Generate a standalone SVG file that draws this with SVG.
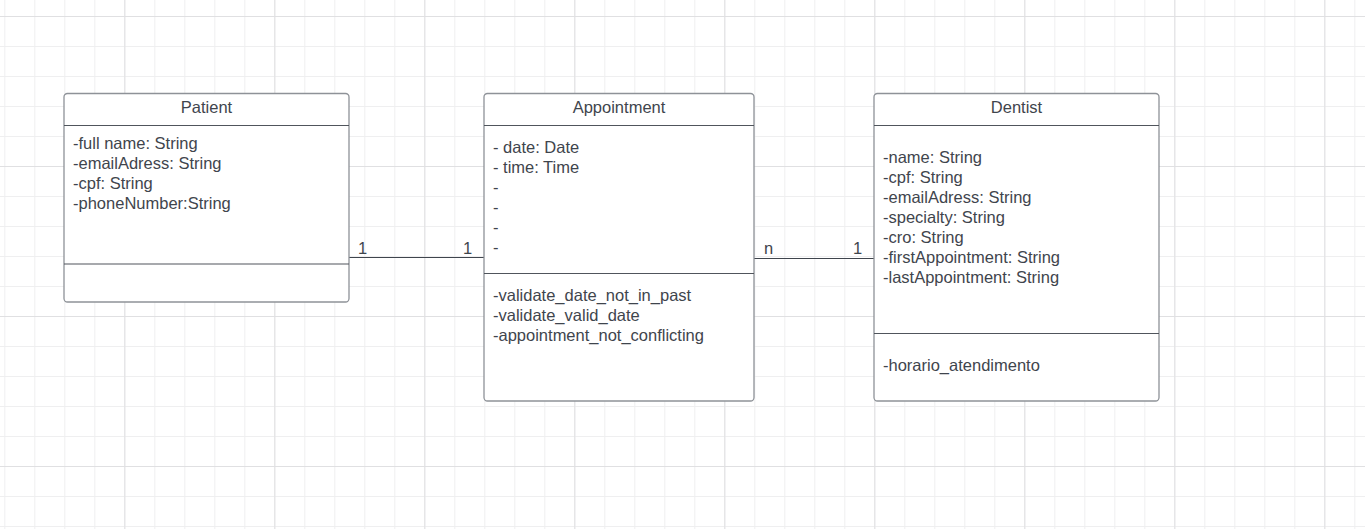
<svg xmlns="http://www.w3.org/2000/svg" width="1365" height="529" viewBox="0 0 1365 529">
  <defs>
    <pattern id="minor" x="4.3" y="16" width="30" height="30" patternUnits="userSpaceOnUse">
      <path d="M0.5 0V30M0 0.5H30" stroke="#efeff0" stroke-width="1" fill="none"/>
    </pattern>
    <pattern id="major" x="124.3" y="16" width="150" height="150" patternUnits="userSpaceOnUse">
      <path d="M0.5 0V150M0 0.5H150" stroke="#e0e0e2" stroke-width="1" fill="none"/>
    </pattern>
  </defs>
  <style>
    .box { fill: #ffffff; stroke: #8e9298; stroke-width: 1.3; }
    .sep { stroke: #50555c; stroke-width: 1.2; }
    .t { font-family: "Liberation Sans", Arial, sans-serif; font-size: 16.5px; fill: #3f454d; }
    .title { text-anchor: middle; }
    .conn { stroke: #3f454d; stroke-width: 1.2; fill: none; }
  </style>
  <rect width="1365" height="529" fill="#ffffff"/>
  <rect width="1365" height="529" fill="url(#minor)"/>
  <rect width="1365" height="529" fill="url(#major)"/>

  <g id="connectors">
    <path class="conn" d="M349 257.5H484"/>
    <text class="t" x="358" y="254">1</text>
    <text class="t" x="463" y="254">1</text>
    <path class="conn" d="M754 258.5H874"/>
    <text class="t" x="764" y="254">n</text>
    <text class="t" x="853" y="254">1</text>
  </g>

  <g id="patient">
    <rect class="box" x="64" y="93.5" width="285" height="208.5" rx="3.5"/>
    <path class="sep" d="M64 125.5H349M64 264H349"/>
    <text class="t title" x="206.5" y="113">Patient</text>
    <text class="t" x="73" y="149">-full name: String</text>
    <text class="t" x="73" y="169">-emailAdress: String</text>
    <text class="t" x="73" y="189">-cpf: String</text>
    <text class="t" x="73" y="209">-phoneNumber:String</text>
  </g>

  <g id="appointment">
    <rect class="box" x="484" y="93.5" width="270" height="307.5" rx="3.5"/>
    <path class="sep" d="M484 125.5H754M484 273.5H754"/>
    <text class="t title" x="619" y="113">Appointment</text>
    <text class="t" x="493" y="153">- date: Date</text>
    <text class="t" x="493" y="173">- time: Time</text>
    <text class="t" x="493" y="193">-</text>
    <text class="t" x="493" y="213">-</text>
    <text class="t" x="493" y="233">-</text>
    <text class="t" x="493" y="253">-</text>
    <text class="t" x="493" y="301">-validate_date_not_in_past</text>
    <text class="t" x="493" y="321">-validate_valid_date</text>
    <text class="t" x="493" y="341">-appointment_not_conflicting</text>
  </g>

  <g id="dentist">
    <rect class="box" x="874" y="93.5" width="285" height="307.5" rx="3.5"/>
    <path class="sep" d="M874 125.5H1159M874 333.5H1159"/>
    <text class="t title" x="1016.5" y="113">Dentist</text>
    <text class="t" x="883" y="163">-name: String</text>
    <text class="t" x="883" y="183">-cpf: String</text>
    <text class="t" x="883" y="203">-emailAdress: String</text>
    <text class="t" x="883" y="223">-specialty: String</text>
    <text class="t" x="883" y="243">-cro: String</text>
    <text class="t" x="883" y="263">-firstAppointment: String</text>
    <text class="t" x="883" y="283">-lastAppointment: String</text>
    <text class="t" x="883" y="371">-horario_atendimento</text>
  </g>
</svg>
